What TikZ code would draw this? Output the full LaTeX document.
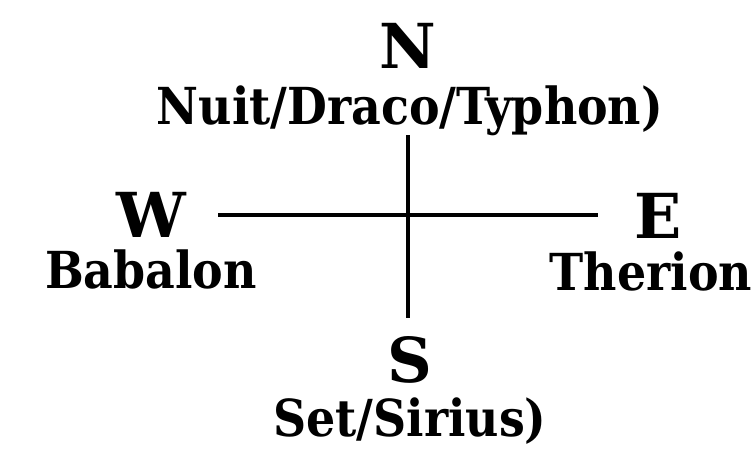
\documentclass[tikz,border=0pt]{standalone}
\usepackage{fontspec}
\setmainfont{DejaVu Serif}
\newfontfamily\narrowserif{DejaVu Serif Condensed}
\usetikzlibrary{positioning}

\begin{document}
\begin{tikzpicture}[
  x=1pt,y=-1pt,
  point/.style={anchor=base,inner sep=0pt,font=\fontsize{62}{70}\selectfont\bfseries},
  deity/.style={anchor=base,inner sep=0pt,font=\narrowserif\fontsize{51}{56}\selectfont\bfseries},
  axis/.style={line width=3.5pt}
]
  \useasboundingbox (0,0) rectangle (755,448);

  \node[point] (north) at (408,68) {N};
  \node[deity] (nuit) at (410,124) {Nuit/Draco/Typhon)};
  \node[point] (west) at (151,237) {W};
  \node[deity] (babalon) at (151,288) {Babalon};
  \node[point] (east) at (658,238) {E};
  \node[deity] (therion) at (651,290) {Therion};
  \node[point] (south) at (410,382) {S};
  \node[deity] (set) at (410,436) {Set/Sirius)};

  \coordinate (top) at (408,135);
  \coordinate (bottom) at (408,318);
  \coordinate (left) at (218,215);
  \coordinate (right) at (598,215);

  \draw[axis] (top) -- (bottom);
  \draw[axis] (left) -- (right);
\end{tikzpicture}
\end{document}
